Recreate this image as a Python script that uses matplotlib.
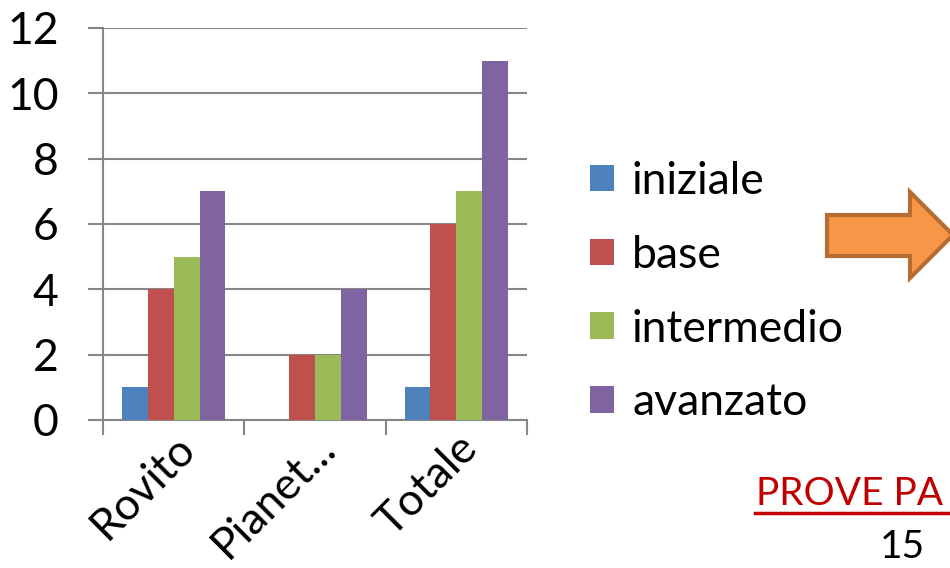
import matplotlib
matplotlib.use("Agg")
import matplotlib.pyplot as plt
import numpy as np
from matplotlib.patches import Polygon

plt.rcParams['font.family'] = ['Lato', 'DejaVu Sans']

categories = ["Rovito", "Pianet...", "Totale"]
series_names = ["iniziale", "base", "intermedio", "avanzato"]
iniziale = [1, 0, 1]
base = [4, 2, 6]
intermedio = [5, 2, 7]
avanzato = [7, 4, 11]
yticks = [0, 2, 4, 6, 8, 10, 12]
colors = ["#4F81BD", "#C0504D", "#9BBB59", "#8064A2"]

W, H = 950, 568
fig = plt.figure(figsize=(W/100, H/100), dpi=100)
ax = fig.add_axes([103/W, (H-420)/H, (527-103)/W, (420-28)/H])

x = np.arange(len(categories))
bw = 0.183
values = [iniziale, base, intermedio, avanzato]
for i, (name, vals, c) in enumerate(zip(series_names, values, colors)):
    ax.bar(x + (i - 1.5) * bw, vals, width=bw, color=c, label=name, zorder=3)

ax.set_xlim(-0.5, len(categories) - 0.5)
ax.set_ylim(0, 12)
ax.set_yticks(yticks)
ax.set_yticklabels([str(v) for v in yticks], fontsize=32)
ax.yaxis.grid(True, color="#868686", lw=1.5, zorder=0)
ax.set_axisbelow(True)
ax.tick_params(axis='y', length=11, width=1.5, color="#868686", pad=21)

ax.set_xticks(np.arange(len(categories) + 1) - 0.5)
ax.set_xticklabels([])
ax.tick_params(axis='x', which='major', length=11, width=1.5, color="#868686")
ax.set_xticks(x, minor=True)
ax.set_xticklabels(categories, minor=True, fontsize=32, rotation=45,
                   ha='right', va='top', rotation_mode='anchor')
ax.tick_params(axis='x', which='minor', length=0, pad=5)

for s in ['top', 'right']:
    ax.spines[s].set_visible(False)
for s in ['left', 'bottom']:
    ax.spines[s].set_color("#868686")
    ax.spines[s].set_linewidth(1.5)

leg = fig.legend(loc='upper left', bbox_to_anchor=(572/W, 1 - 143/H), frameon=False,
                 fontsize=32, handlelength=0.55, handleheight=0.55, handletextpad=0.4,
                 labelspacing=0.74, borderaxespad=0)

# Orange arrow (decorative)
pts = [(827, 215), (910, 215), (910, 192), (953, 235), (910, 278), (910, 256), (827, 256)]
arrow = Polygon([(px/W, 1 - py/H) for px, py in pts], closed=True, transform=fig.transFigure,
                facecolor="#F79646", edgecolor="#B66D31", lw=3)
fig.patches.append(arrow)

fig.text(756/W, 1 - 505/H, "PROVE PA", color="#C00000", fontsize=28, ha='left', va='baseline')
fig.add_artist(plt.Line2D([755/W, 950/W], [1 - 513/H, 1 - 513/H], color="#C00000", lw=2.5,
                          transform=fig.transFigure))
fig.text(880/W, 1 - 558/H, "15", color="black", fontsize=28, ha='left', va='baseline')

fig.savefig("out.png", dpi=100)
